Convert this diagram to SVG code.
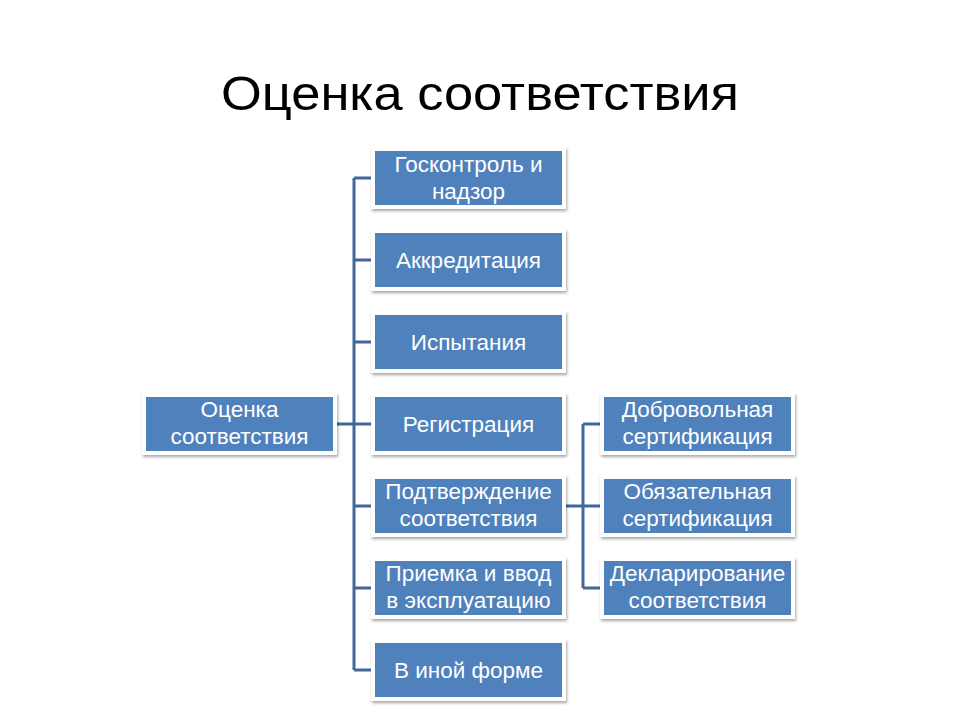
<svg xmlns="http://www.w3.org/2000/svg" width="960" height="720" viewBox="0 0 960 720">
<defs>
<filter id="sh" x="-10%" y="-20%" width="120%" height="150%">
<feDropShadow dx="1" dy="2" stdDeviation="1.8" flood-color="#000" flood-opacity="0.35"/>
</filter>
<style>
.frame{fill:#fff;filter:url(#sh)}
.box{fill:#4F81BD}
.t{font-family:"Liberation Sans","DejaVu Sans",sans-serif;font-size:22.5px;fill:#fff;text-anchor:middle}
.title{font-family:"Liberation Sans","DejaVu Sans",sans-serif;font-size:48px;fill:#000;text-anchor:middle}
.c{fill:none;stroke:#41679D;stroke-width:3}
</style>
</defs>
<rect width="960" height="720" fill="#fff"/>
<text class="title" x="480" y="110" textLength="518" lengthAdjust="spacingAndGlyphs">Оценка соответствия</text>
<g id="connectors">
<path class="c" d="M336 424H354M354 178V670M354 178H372M354 260H372M354 342H372M354 424H372M354 506H372M354 588H372M354 670H372"/>
<path class="c" d="M565 506H583M583 424V588M583 424H601M583 506H601M583 588H601"/>
</g>
<g id="root">
<rect class="frame" x="142" y="393" width="195" height="62"/>
<rect class="box" x="146" y="397" width="187" height="54"/>
<text class="t" x="239.5" y="417">Оценка</text>
<text class="t" x="239.5" y="444">соответствия</text>
</g>
<g id="n1">
<rect class="frame" x="371" y="147" width="195" height="62"/>
<rect class="box" x="375" y="151" width="187" height="54"/>
<text class="t" x="468.5" y="172">Госконтроль и</text>
<text class="t" x="468.5" y="199">надзор</text>
</g>
<g id="n2">
<rect class="frame" x="371" y="229" width="195" height="62"/>
<rect class="box" x="375" y="233" width="187" height="54"/>
<text class="t" x="468.5" y="268">Аккредитация</text>
</g>
<g id="n3">
<rect class="frame" x="371" y="311" width="195" height="62"/>
<rect class="box" x="375" y="315" width="187" height="54"/>
<text class="t" x="468.5" y="350">Испытания</text>
</g>
<g id="n4">
<rect class="frame" x="371" y="393" width="195" height="62"/>
<rect class="box" x="375" y="397" width="187" height="54"/>
<text class="t" x="468.5" y="432">Регистрация</text>
</g>
<g id="n5">
<rect class="frame" x="371" y="475" width="195" height="62"/>
<rect class="box" x="375" y="479" width="187" height="54"/>
<text class="t" x="468.5" y="499">Подтверждение</text>
<text class="t" x="468.5" y="526">соответствия</text>
</g>
<g id="n6">
<rect class="frame" x="371" y="557" width="195" height="62"/>
<rect class="box" x="375" y="561" width="187" height="54"/>
<text class="t" x="468.5" y="581">Приемка и ввод</text>
<text class="t" x="468.5" y="608">в эксплуатацию</text>
</g>
<g id="n7">
<rect class="frame" x="371" y="639" width="195" height="62"/>
<rect class="box" x="375" y="643" width="187" height="54"/>
<text class="t" x="468.5" y="678">В иной форме</text>
</g>
<g id="s1">
<rect class="frame" x="600" y="393" width="195" height="62"/>
<rect class="box" x="604" y="397" width="187" height="54"/>
<text class="t" x="697.5" y="417">Добровольная</text>
<text class="t" x="697.5" y="444">сертификация</text>
</g>
<g id="s2">
<rect class="frame" x="600" y="475" width="195" height="62"/>
<rect class="box" x="604" y="479" width="187" height="54"/>
<text class="t" x="697.5" y="499">Обязательная</text>
<text class="t" x="697.5" y="526">сертификация</text>
</g>
<g id="s3">
<rect class="frame" x="600" y="557" width="195" height="62"/>
<rect class="box" x="604" y="561" width="187" height="54"/>
<text class="t" x="697.5" y="581">Декларирование</text>
<text class="t" x="697.5" y="608">соответствия</text>
</g>
</svg>
